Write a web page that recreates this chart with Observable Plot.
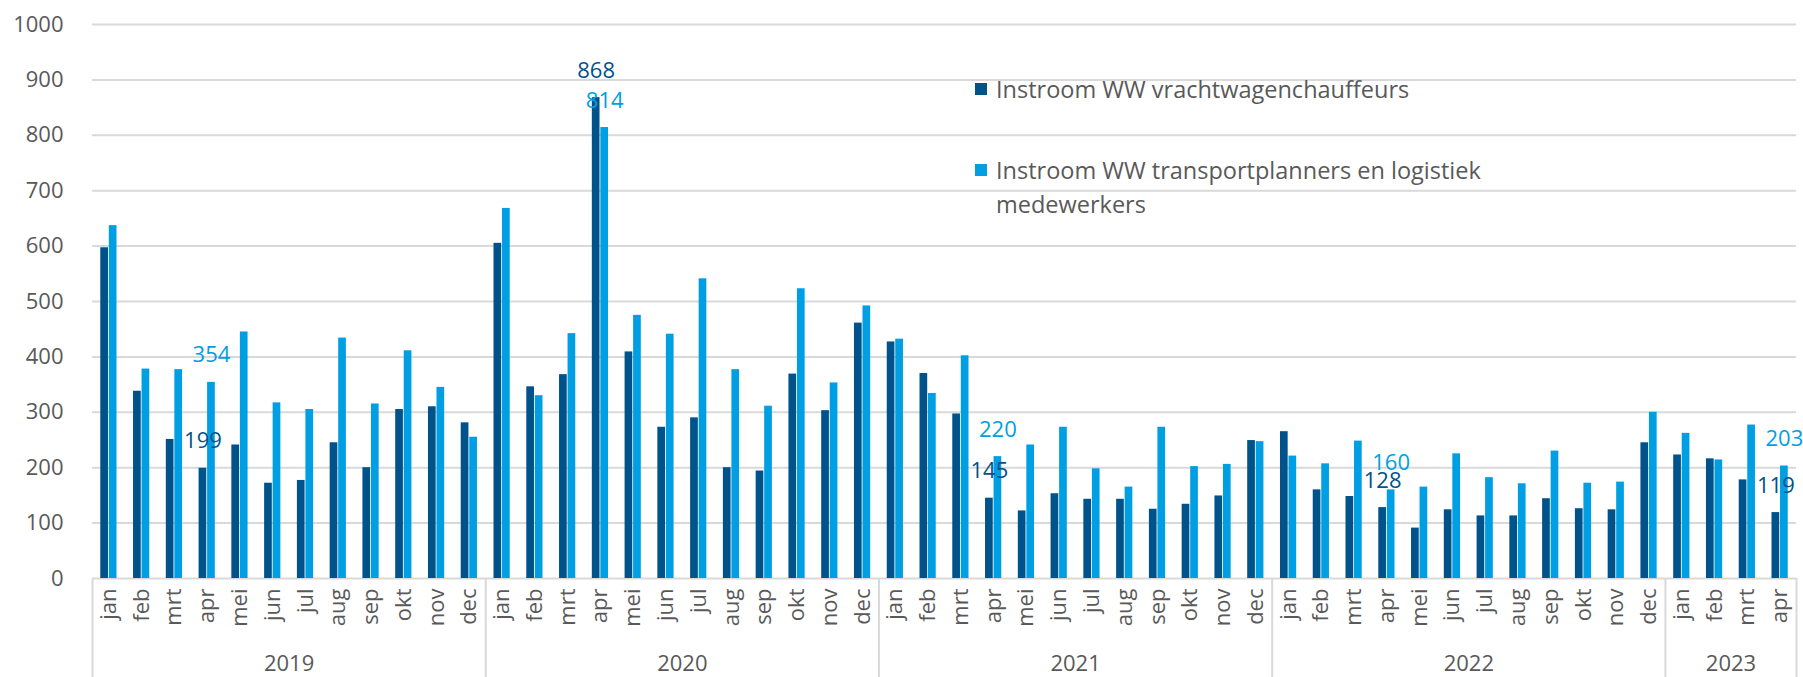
<!DOCTYPE html>
<html>
<head>
<meta charset="utf-8">
<script src="https://cdn.jsdelivr.net/npm/d3@7"></script>
<script src="https://cdn.jsdelivr.net/npm/@observablehq/plot@0.6"></script>
<style>
  html, body { margin: 0; padding: 0; background: #fff; }
  #wrap { position: relative; width: 1803px; height: 677px; font-family: "Open Sans", sans-serif; }
  .legend { position: absolute; left: 975px; top: 72px; color: #595959; font-size: 23.5px; line-height: 34px; }
  .item { position: relative; padding-left: 21px; margin-bottom: 47px; }
  .sw { position: absolute; left: 0; top: 11px; width: 12px; height: 12px; }
</style>
</head>
<body>
<div id="wrap"></div>
<script>
const months = ["jan","feb","mrt","apr","mei","jun","jul","aug","sep","okt","nov","dec"];
const years = [2019, 2020, 2021, 2022, 2023];
const monthsPerYear = [12, 12, 12, 12, 4];
const seriesNames = ["Instroom WW vrachtwagenchauffeurs", "Instroom WW transportplanners en logistiek medewerkers"];
const colors = ["#00538A", "#009FE3"];

const drivers = [
  597, 338, 251, 199, 241, 172, 177, 245, 200, 305, 310, 281,
  605, 346, 368, 868, 409, 273, 290, 200, 194, 369, 303, 461,
  427, 370, 297, 145, 122, 153, 143, 143, 125, 134, 149, 249,
  265, 160, 148, 128,  91, 124, 113, 113, 144, 126, 124, 245,
  223, 216, 178, 119
];
const planners = [
  637, 378, 377, 354, 445, 317, 305, 434, 315, 411, 345, 255,
  668, 330, 442, 814, 475, 441, 541, 377, 311, 523, 353, 492,
  432, 334, 402, 220, 241, 273, 198, 165, 273, 202, 206, 247,
  221, 207, 248, 160, 165, 225, 182, 171, 230, 172, 174, 300,
  262, 214, 277, 203
];
const labelledMonth = "apr";

// build rows
const rows = [];
let idx = 0;
years.forEach((yr, k) => {
  for (let m = 0; m < monthsPerYear[k]; m++) {
    rows.push({i: idx, year: yr, month: months[m], drivers: drivers[idx], planners: planners[idx]});
    idx++;
  }
});
const yearSpans = [];
let start = 0;
years.forEach((yr, k) => { yearSpans.push({year: yr, start, end: start + monthsPerYear[k]}); start += monthsPerYear[k]; });
const boundaries = [0, ...yearSpans.map(s => s.end)];

const barW = 0.235, gap = 0.025;
const labelled = rows.filter(d => d.month === labelledMonth);

const chart = Plot.plot({
  width: 1803,
  height: 677,
  marginLeft: 92,
  marginRight: 7,
  marginTop: 24,
  marginBottom: 99,
  style: {fontFamily: "Open Sans, sans-serif", fontSize: "22px", color: "#595959", background: "#fff"},
  x: {domain: [0, rows.length], axis: null},
  y: {domain: [0, 1000], axis: null},
  marks: [
    Plot.gridY(d3.range(0, 1001, 100), {stroke: "#d9d9d9", strokeOpacity: 1, strokeWidth: 2}),
    Plot.axisY(d3.range(0, 1001, 100), {tickSize: 0, tickPadding: 29, fontSize: 22, fill: "#595959", label: null, tickFormat: d => String(d)}),
    Plot.rectY(rows, {x1: d => d.i + 0.5 - gap / 2 - barW, x2: d => d.i + 0.5 - gap / 2, y: "drivers", fill: colors[0]}),
    Plot.rectY(rows, {x1: d => d.i + 0.5 + gap / 2, x2: d => d.i + 0.5 + gap / 2 + barW, y: "planners", fill: colors[1]}),
    Plot.ruleX(boundaries, {y1: 0, y2: -180, stroke: "#d9d9d9", strokeWidth: 2}),
    Plot.text(rows, {x: d => d.i + 0.5, y: 0, text: "month", rotate: -90, textAnchor: "end", dy: 10, fill: "#595959", fontSize: 22}),
    Plot.text(yearSpans, {x: d => (d.start + d.end) / 2, y: 0, text: d => String(d.year), dy: 85, fill: "#595959", fontSize: 22}),
    Plot.text(labelled, {x: d => d.i + 0.5 - gap / 2 - barW / 2, y: "drivers", text: d => String(d.drivers), dy: -27, fill: colors[0], fontSize: 22}),
    Plot.text(labelled, {x: d => d.i + 0.5 + gap / 2 + barW / 2, y: "planners", text: d => String(d.planners), dy: -27, fill: colors[1], fontSize: 22})
  ]
});

const wrap = document.getElementById("wrap");
wrap.appendChild(chart);

const legend = document.createElement("div");
legend.className = "legend";
legend.innerHTML = seriesNames.map((n, k) => {
  const parts = k === 1 ? n.replace(" medewerkers", "<br>medewerkers") : n;
  return `<div class="item"><span class="sw" style="background:${colors[k]}"></span>${parts}</div>`;
}).join("");
wrap.appendChild(legend);
</script>
</body>
</html>
